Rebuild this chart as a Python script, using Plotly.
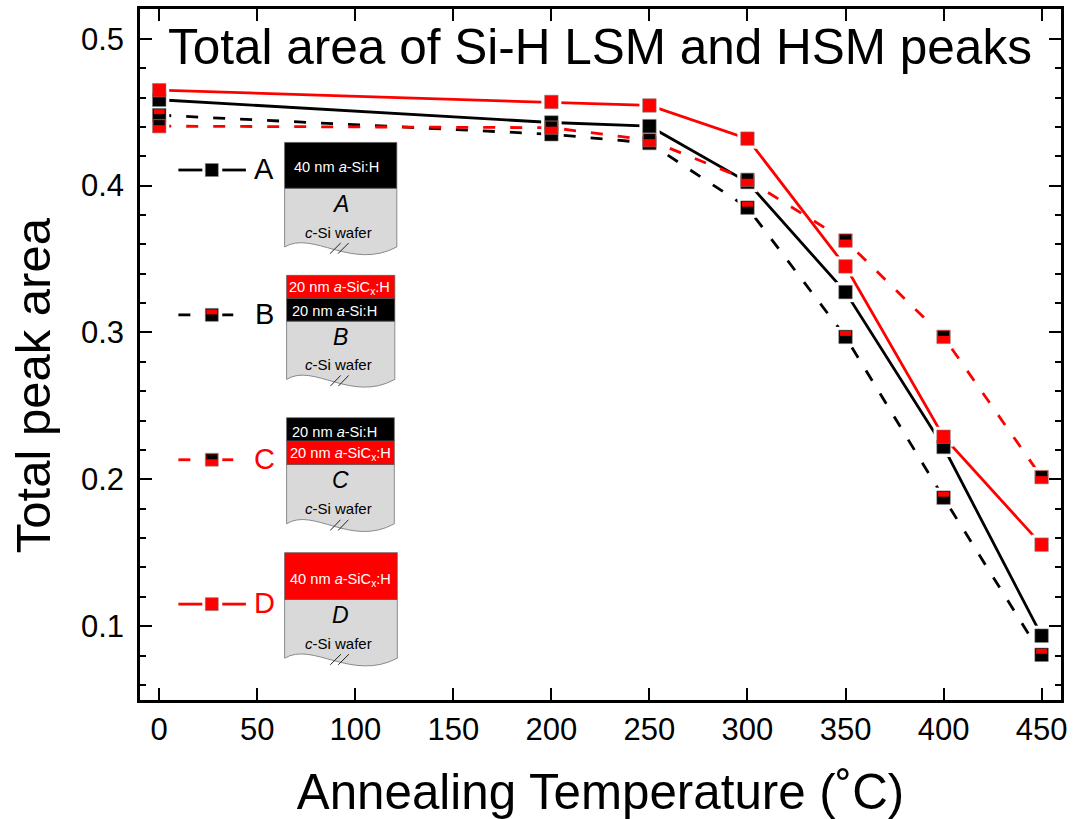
import plotly.graph_objects as go

# ---------- data ----------
temps = [0, 200, 250, 300, 350, 400, 450]
area_a = [0.4585, 0.443, 0.4405, 0.4024, 0.3275, 0.222, 0.0935]
area_b = [0.448, 0.435, 0.429, 0.385, 0.297, 0.1875, 0.0805]
area_c = [0.4405, 0.4395, 0.431, 0.404, 0.3626, 0.297, 0.2015]
area_d = [0.465, 0.457, 0.4546, 0.432, 0.345, 0.229, 0.1555]
x_ticks = [0, 50, 100, 150, 200, 250, 300, 350, 400, 450]
y_ticks = [0.1, 0.2, 0.3, 0.4, 0.5]

BLACK, RED = "#000000", "#ff0000"
FONT = "Liberation Sans"
W, H = 1073, 819
L, R, T, B = 139.5, 1063, 6, 700
XRANGE = [-9.8, 459.9]
YRANGE = [0.0497, 0.5203]
PX_Y = (YRANGE[1] - YRANGE[0]) / (B - T)
INSET = 3.5 * PX_Y
INSET_HALF = 2.5 * PX_Y
DASH = "12px,15px"

def px(x):
    return (x - L) / (R - L)

def py(y):
    return (B - y) / (B - T)

fig = go.Figure()
series = [
    ("A", area_a, BLACK, "solid", None),
    ("B", area_b, BLACK, DASH, RED),
    ("C", area_c, RED, DASH, BLACK),
    ("D", area_d, RED, "solid", None),
]
for name, vals, col, dash, _ in series:
    fig.add_trace(go.Scatter(x=temps, y=vals, mode="lines+markers", name=name,
                             line=dict(color=col, width=2.8, dash=dash),
                             marker=dict(symbol="square", size=20, color="white"),
                             showlegend=False, hoverinfo="skip"))
for name, vals, col, dash, inner in series:
    fig.add_trace(go.Scatter(x=temps, y=vals, mode="markers", name=name,
                             marker=dict(symbol="square", size=13.5,
                                         color=col,
                                         line=dict(width=1, color="rgba(130,130,130,0.55)")),
                             showlegend=False))
    if inner:
        fig.add_trace(go.Scatter(x=temps, y=[v + INSET for v in vals], mode="markers",
                                 name=name + " inset",
                                 marker=dict(symbol="square", size=1, opacity=0),
                                 error_y=dict(type="constant", value=INSET_HALF, thickness=11,
                                              width=0, color=inner),
                                 showlegend=False, hoverinfo="skip"))

shapes, annotations = [], []

def rect(x0, y0, x1, y1, fill, line="rgba(90,90,90,0.7)", lw=1):
    shapes.append(dict(type="rect", xref="paper", yref="paper",
                       x0=px(x0), x1=px(x1), y0=py(y0), y1=py(y1),
                       fillcolor=fill, line=dict(color=line, width=lw)))

def seg(x0, y0, x1, y1, col, lw):
    shapes.append(dict(type="line", xref="paper", yref="paper",
                       x0=px(x0), x1=px(x1), y0=py(y0), y1=py(y1),
                       line=dict(color=col, width=lw)))

def label(x, y, text, size, col=BLACK, anchor="center", angle=0):
    annotations.append(dict(xref="paper", yref="paper", x=px(x), y=py(y), text=text,
                            showarrow=False, xanchor=anchor, yanchor="middle", textangle=angle,
                            font=dict(family=FONT, size=size, color=col)))

def wafer(x0, x1, top, bottom, letter):
    w = x1 - x0
    d = (f"M {px(x0)},{py(top)} L {px(x1)},{py(top)} L {px(x1)},{py(bottom)} "
         f"C {px(x1 - .4 * w)},{py(bottom + 24)} {px(x0 + .25 * w)},{py(bottom - 17)} "
         f"{px(x0)},{py(bottom)} Z")
    shapes.append(dict(type="path", xref="paper", yref="paper", path=d,
                       fillcolor="#d9d9d9", line=dict(color="#8a8a8a", width=1)))
    cx = (x0 + x1) / 2
    label(cx, top + 16, f"<i>{letter}</i>", 23)
    label(cx - 2, bottom - 15, "<i>c</i>-Si wafer", 15)
    for off in (0, 8):
        seg(x0 + .405 * w + off, bottom + 6.7, x0 + .5 * w + off, bottom - 4, "#222222", 1)

SI = "<i>a</i>-Si:H"
SIC = "<i>a</i>-SiC<sub>x</sub>:H"
# A
wafer(284.5, 397, 186, 245, "A")
rect(284.5, 140, 397, 186, BLACK)
label(337, 165, "40 nm " + SI, 14.6, "white")
# B
wafer(286.5, 395, 319.5, 378, "B")
rect(286.5, 273.5, 395, 296.7, RED)
rect(286.5, 296.7, 395, 319.5, BLACK)
label(340, 286, "20 nm " + SIC, 14.6, "white")
label(335, 309, "20 nm " + SI, 14.6, "white")
# C
wafer(286.5, 394.5, 463.5, 523, "C")
rect(286.5, 416.5, 394.5, 440, BLACK)
rect(286.5, 440, 394.5, 463.5, RED)
label(335, 430.5, "20 nm " + SI, 14.6, "white")
label(341, 452.5, "20 nm " + SIC, 14.6, "white")
# D
wafer(284.5, 397.5, 599, 658, "D")
rect(284.5, 552, 397.5, 599, RED)
label(341, 579.5, "40 nm " + SIC, 14.6, "white")

# legend keys
for ky, col, dashed, inner, letter in [
    (167.7, BLACK, False, None, "A"),
    (313.2, BLACK, True, RED, "B"),
    (458.7, RED, True, BLACK, "C"),
    (603.7, RED, False, None, "D"),
]:
    if dashed:
        seg(178, ky, 190, ky, col, 2.8)
        seg(222, ky, 233, ky, col, 2.8)
    else:
        seg(178, ky, 202, ky, col, 2.8)
        seg(222, ky, 245.7, ky, col, 2.8)
    rect(205, ky - 6.5, 218, ky + 6.5, col, "rgba(130,130,130,0.55)", 1)
    if inner:
        rect(206, ky - 5.5, 217, ky - 0.5, inner, inner, 0)
    label(264, ky - 1, letter, 29, col)

label(601, 44, "Total area of Si-H LSM and HSM peaks", 49.5)
label(33, 384, "Total peak area", 49, angle=-90)

axis_common = dict(showline=True, linecolor=BLACK, linewidth=2.5, mirror="ticks",
                   ticks="inside", tickcolor=BLACK, tickwidth=2.2, ticklen=12,
                   showgrid=False, zeroline=False, ticklabelstandoff=0,
                   tickfont=dict(family=FONT, size=31, color=BLACK))

fig.update_layout(
    width=W, height=H, autosize=False,
    paper_bgcolor="white", plot_bgcolor="white",
    margin=dict(l=L, r=W - R, t=T, b=H - B, pad=0),
    showlegend=False, shapes=shapes, annotations=annotations,
    font=dict(family=FONT, color=BLACK),
    xaxis=dict(range=XRANGE, tickmode="array", tickvals=x_ticks, ticktext=[str(v) for v in x_ticks],
               title=dict(text="Annealing Temperature (˚C)", font=dict(family=FONT, size=49.3), standoff=30),
               **axis_common),
    yaxis=dict(range=YRANGE, tickmode="array", tickvals=y_ticks, ticktext=[f"{v:.1f}" for v in y_ticks],
               minor=dict(tickmode="linear", tick0=0.0, dtick=0.02, ticks="inside", ticklen=6,
                          tickwidth=2.2, tickcolor=BLACK),
               **axis_common),
)
fig.update_yaxes(ticklabelstandoff=7)

fig.write_html("out.html", post_script="document.body.style.margin='0';document.body.style.overflow='hidden';",
               config={"displayModeBar": False})
